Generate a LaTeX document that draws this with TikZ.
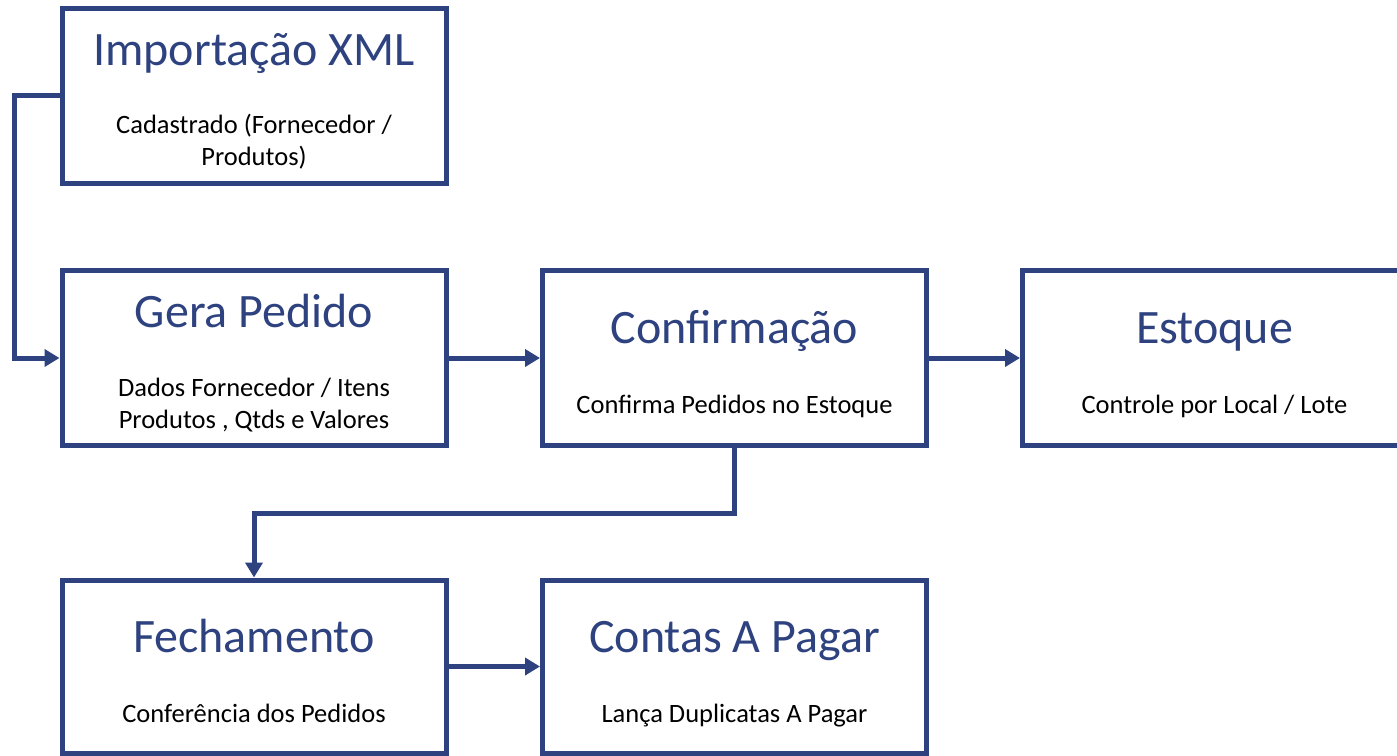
\documentclass[tikz,border=0pt]{standalone}
\usepackage{fontspec}
\setmainfont{Carlito}
\usetikzlibrary{arrows.meta}
\definecolor{blu}{RGB}{46,66,128}
\tikzset{
  box/.style={draw=blu, line width=5pt, minimum width=384pt, minimum height=175pt, inner sep=0pt},
  ttl/.style={text=blu, font=\fontsize{48}{56}\selectfont, anchor=base, inner sep=0pt},
  sub/.style={text=black, font=\fontsize{26.5}{31.5}\selectfont, anchor=base, align=center, inner sep=0pt},
  conn/.style={draw=blu, line width=5pt, -{Triangle[length=15pt,width=17pt]}}
}
\begin{document}
\begin{tikzpicture}[x=1pt,y=-1pt]
\useasboundingbox (0,0) rectangle (1397,755);
\node[box] (imp) at (254,95.5) {};
\node[box] (gera) at (254,358) {};
\node[box] (conf) at (734.5,358) {};
\node[box] (est) at (1214.5,358) {};
\node[box, minimum height=173pt] (fech) at (254,666.5) {};
\node[box, minimum height=173pt] (cont) at (734.5,666.5) {};

\node[ttl] (impt) at (254,65) {Importação XML};
\node[sub] (imps) at (254,165) {Cadastrado (Fornecedor /\\Produtos)};
\node[ttl] (gerat) at (254,327) {Gera Pedido};
\node[sub] (geras) at (254,428) {Dados Fornecedor / Itens\\Produtos , Qtds e Valores};
\node[ttl] (conft) at (734.5,343) {Confirmação};
\node[sub] (confs) at (734.5,413) {Confirma Pedidos no Estoque};
\node[ttl] (estt) at (1214.5,343) {Estoque};
\node[sub] (ests) at (1214.5,413) {Controle por Local / Lote};
\node[ttl] (fecht) at (254,652) {Fechamento};
\node[sub] (fechs) at (254,722) {Conferência dos Pedidos};
\node[ttl] (contt) at (734.5,652) {Contas A Pagar};
\node[sub] (conts) at (734.5,722) {Lança Duplicatas A Pagar};

\draw[conn] (imp.west) -- ++(-45.5,0) |- (gera.west);
\draw[conn] (gera.east) -- (conf.west);
\draw[conn] (conf.east) -- (est.west);
\draw[conn] (conf.south) -- ++(0,65) -| (fech.north);
\draw[conn] (fech.east) -- (cont.west);
\end{tikzpicture}
\end{document}
